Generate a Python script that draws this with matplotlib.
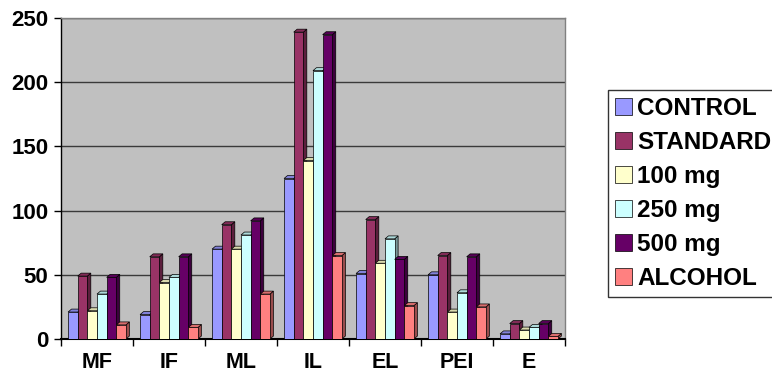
import matplotlib
matplotlib.use("Agg")
import matplotlib.pyplot as plt
import matplotlib.colors as mcolors
import numpy as np

plt.rcParams['font.family'] = ['Liberation Sans', 'DejaVu Sans']
plt.rcParams['font.weight'] = 'bold'

categories = ["MF", "IF", "ML", "IL", "EL", "PEI", "E"]
series_names = ["CONTROL", "STANDARD", "100 mg", "250 mg", "500 mg", "ALCOHOL"]
control = [21, 19, 70, 125, 51, 50, 4]
standard = [49, 64, 89, 239, 93, 65, 12]
dose_100 = [22, 44, 70, 139, 59, 21, 7]
dose_250 = [35, 48, 81, 209, 78, 36, 9]
dose_500 = [48, 64, 92, 237, 62, 64, 12]
alcohol = [11, 9, 35, 65, 26, 25, 2]
y_ticks = [0, 50, 100, 150, 200, 250]

series = [control, standard, dose_100, dose_250, dose_500, alcohol]
colors = ["#9999FF", "#993366", "#FFFFCC", "#CCFFFF", "#660066", "#FF8080"]

fig = plt.figure(figsize=(7.72, 3.75), dpi=100)
ax = fig.add_axes([61 / 772, 36 / 375, 504 / 772, 321 / 375])
ax.set_facecolor("#C0C0C0")

bar_w = 0.134
dx, dy = 0.048, 2.3  # depth offset of the pseudo-3D faces

def shade(c, f):
    r, g, b = mcolors.to_rgb(c)
    return (r * f, g * f, b * f)

handles = []
z = 3
n = len(series)
for ci in range(len(categories)):
    for si in range(n):
        v = series[si][ci]
        x0 = ci + 0.5 + (si - n / 2) * bar_w
        x1 = x0 + bar_w
        c = colors[si]
        # right side face
        ax.fill([x1, x1 + dx, x1 + dx, x1], [0, dy, v + dy, v],
                facecolor=shade(c, 0.6), edgecolor="black", lw=0.5, zorder=z)
        # top face
        ax.fill([x0, x1, x1 + dx, x0 + dx], [v, v, v + dy, v + dy],
                facecolor=shade(c, 0.85), edgecolor="black", lw=0.5, zorder=z)
        b = ax.bar(x0, v, width=bar_w, align="edge", color=c,
                   edgecolor="black", lw=0.5, zorder=z + 1)
        if ci == 0:
            handles.append(b)
        z += 2

ax.set_xlim(0, 7)
ax.set_ylim(0, 250)
ax.set_yticks(y_ticks)
ax.set_yticklabels([str(t) for t in y_ticks], fontsize=16, fontweight="bold")
ax.yaxis.grid(True, color="#3a3a3a", lw=1)
ax.set_axisbelow(True)

ax.set_xticks(np.arange(0, 8))
ax.set_xticklabels([])
ax.set_xticks(np.arange(len(categories)) + 0.5, minor=True)
ax.set_xticklabels(categories, minor=True, fontsize=15.5, fontweight="bold")
ax.tick_params(axis="x", which="major", length=5, width=1, color="black", direction="out")
ax.tick_params(axis="x", which="minor", length=0, pad=9)
ax.tick_params(axis="y", length=5, width=1, pad=4, direction="out")

for s in ["top", "right"]:
    ax.spines[s].set_color("#808080")
    ax.spines[s].set_linewidth(1)
ax.spines["left"].set_color("black")
ax.spines["bottom"].set_color("black")
ax.spines["left"].set_linewidth(1)
ax.spines["bottom"].set_linewidth(1.5)

leg = fig.legend(handles, series_names, loc="upper left",
                 bbox_to_anchor=(608 / 772, 1 - 90 / 375),
                 prop={"size": 17.5, "weight": "bold"},
                 frameon=True, fancybox=False, edgecolor="black",
                 handlelength=0.7, handleheight=0.7, handletextpad=0.2,
                 labelspacing=0.45, borderpad=0.3, borderaxespad=0)
leg.get_frame().set_linewidth(1)

fig.savefig("out.png", dpi=100, facecolor="white")
